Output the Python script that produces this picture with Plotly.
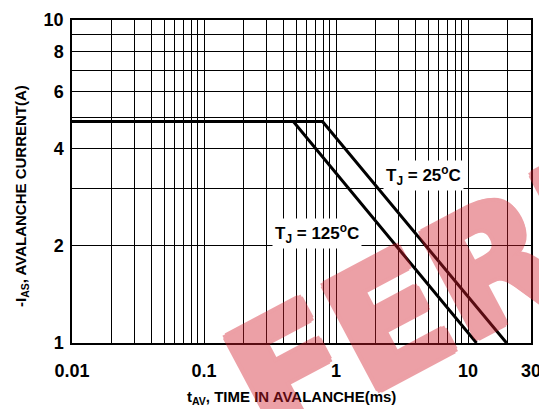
import plotly.graph_objects as go
import math

# Data
t25 = [0.01, 0.79, 19.6]
i25 = [4.85, 4.85, 1.0]
t125 = [0.01, 0.475, 11.6]
i125 = [4.85, 4.85, 1.0]

x_grid = [m * d for d in (0.01, 0.1, 1) for m in range(1, 10)] + [10, 20, 30]
x_labels = {0.01: "0.01", 0.1: "0.1", 1: "1", 10: "10", 30: "30"}
y_grid = list(range(1, 11))
y_labels = {1: "1", 2: "2", 4: "4", 6: "6", 8: "8", 10: "10"}

def lab(v, d):
    for k, s in d.items():
        if abs(v - k) < 1e-9:
            return "<b>%s</b>" % s
    return ""

fig = go.Figure()
for xs, ys in ((t25, i25), (t125, i125)):
    fig.add_trace(go.Scatter(x=xs, y=ys, mode="lines",
                             line=dict(color="black", width=3),
                             showlegend=False, hoverinfo="skip"))

font = "Liberation Sans, Arial, sans-serif"
OFF = 8  # page body margin of the html page
W, H = 547, 409
PL, PT, PR, PB = 72, 20, 531, 343  # plot area in screen pixels
fig.update_layout(
    width=W - OFF, height=H - OFF,
    margin=dict(l=PL - OFF, t=PT - OFF, r=(W - OFF) - (PR - OFF),
                b=(H - OFF) - (PB - OFF), autoexpand=False),
    paper_bgcolor="white", plot_bgcolor="white",
    font=dict(family=font, color="black"),
)
fig.update_xaxes(
    type="log", range=[math.log10(0.01), math.log10(30)],
    tickvals=x_grid, ticktext=[lab(v, x_labels) for v in x_grid],
    showgrid=True, gridcolor="black", gridwidth=1,
    showline=True, linecolor="black", linewidth=1.5, mirror=True,
    ticks="", tickfont=dict(size=18, family=font, color="black"),
    ticklabelstandoff=11,
    automargin=False, zeroline=False,
)
fig.update_yaxes(
    type="log", range=[0, 1],
    tickvals=y_grid, ticktext=[lab(v, y_labels) for v in y_grid],
    showgrid=True, gridcolor="black", gridwidth=1,
    showline=True, linecolor="black", linewidth=1.5, mirror=True,
    ticks="", tickfont=dict(size=18, family=font, color="black"),
    ticklabelstandoff=3,
    automargin=False, zeroline=False,
)

def px(x):
    return (x - PL) / (PR - PL)
def py(y):
    return (PB - y) / (PB - PT)

# axis titles
fig.add_annotation(x=px(291), y=py(397), xref="paper", yref="paper",
                   xanchor="center", yanchor="middle",
                   text="<b>t<sub>AV</sub>, TIME IN AVALANCHE(ms)</b>", showarrow=False,
                   font=dict(size=15, family=font, color="black"))
fig.add_annotation(x=px(21), y=py(196), xref="paper", yref="paper",
                   xanchor="center", yanchor="middle", textangle=-90,
                   text="<b>-I<sub>AS</sub>, AVALANCHE CURRENT(A)</b>", showarrow=False,
                   font=dict(size=15, family=font, color="black"))

fig.add_annotation(x=px(423), y=py(175), xref="paper", yref="paper",
                   xanchor="center", yanchor="middle",
                   text="<b>T<sub>J</sub> = 25<sup>o</sup>C</b>", showarrow=False,
                   font=dict(size=17, family=font, color="black"),
                   bgcolor="white", borderpad=2)
fig.add_annotation(x=px(317), y=py(233), xref="paper", yref="paper",
                   xanchor="center", yanchor="middle",
                   text="<b>T<sub>J</sub> = 125<sup>o</sup>C</b>", showarrow=False,
                   font=dict(size=17, family=font, color="black"),
                   bgcolor="white", borderpad=2)
# watermark (emboldened with a text shadow, made translucent as a whole)
wm = "rgb(212,30,45)"
sh = ", ".join("%dpx %dpx 0 %s" % (dx, dy, wm)
               for dx, dy in ((4, 0), (-4, 0), (0, 4), (0, -4),
                              (3, 3), (-3, 3), (3, -3), (-3, -3)))
fig.add_annotation(x=px(466), y=py(280), xref="paper", yref="paper",
                   xanchor="center", yanchor="middle",
                   text="<b>FERM</b>", showarrow=False, textangle=-28,
                   opacity=0.42,
                   font=dict(size=162, family="DejaVu Sans", color=wm, shadow=sh))

fig.write_html("out.html")
